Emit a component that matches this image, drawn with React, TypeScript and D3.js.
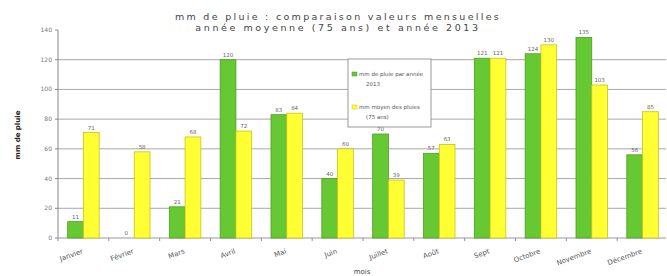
import React from "react";
import * as d3 from "d3";

const months = ["Janvier", "Février", "Mars", "Avril", "Mai", "Juin", "Juillet", "Août", "Sept", "Octobre", "Novembre", "Décembre"];
const rain2013 = [11, 0, 21, 120, 83, 40, 70, 57, 121, 124, 135, 56];
const rainAvg = [71, 58, 68, 72, 84, 60, 39, 63, 121, 130, 103, 85];
const yTicks = [0, 20, 40, 60, 80, 100, 120, 140];
const seriesNames = ["2013", "75 ans"];
const seriesColors = ["#66c832", "#ffff33"];
const seriesStrokes = ["#4e9e22", "#c9c21a"];
const legendLines = [["mm de pluie par année", "2013"], ["mm moyen des pluies", "(75 ans)"]];

export default function App() {
  const W = 667, H = 276;
  const left = 58, right = 668, top = 30, bottom = 238;
  const x0 = d3.scaleBand<string>().domain(months).range([left, right]).paddingInner(0.38).paddingOuter(0.19);
  const x1 = d3.scaleBand<string>().domain(seriesNames).range([0, x0.bandwidth()]);
  const y = d3.scaleLinear().domain([0, 140]).range([bottom, top]);
  const data = [rain2013, rainAvg];
  const step = x0.step();
  const font = "DejaVu Sans, sans-serif";
  return (
    <svg width={W} height={H} style={{ position: "absolute", left: 0, top: 0, background: "#fff" }} fontFamily={font}>
      <rect x={0} y={0} width={W} height={H} fill="#fff" />
      {yTicks.filter(t => t > 0 && t < 140).map(t => (
        <line key={t} x1={left} x2={666} y1={y(t)} y2={y(t)} stroke="#a8a8a8" strokeWidth={1} />
      ))}
      {yTicks.map(t => (
        <g key={"t" + t}>
          <line x1={left - 3} x2={left} y1={y(t)} y2={y(t)} stroke="#888" />
          <text x={left - 6} y={y(t) + 2} fontSize={6} fill="#777" textAnchor="end">{t}</text>
        </g>
      ))}
      <line x1={left} x2={left} y1={top} y2={bottom} stroke="#888" />
      <line x1={left} x2={666} y1={bottom} y2={bottom} stroke="#999" />
      {months.map((m, i) => (
        <line key={"xt" + m} x1={left + step * i} x2={left + step * i} y1={bottom} y2={bottom + 3} stroke="#9a7fc8" />
      ))}
      {months.map((m, i) => (
        <g key={m}>
          {data.map((s, k) => {
            const bx = (x0(m) as number) + (x1(seriesNames[k]) as number);
            const bw = x1.bandwidth();
            const v = s[i];
            return (
              <g key={k}>
                {v > 0 && (
                  <rect x={bx} y={y(v)} width={bw} height={bottom - y(v)} fill={seriesColors[k]} stroke={seriesStrokes[k]} strokeWidth={0.8} />
                )}
                <text x={bx + bw / 2} y={y(v) - 3} fontSize={5.5} fill="#666" textAnchor="middle">{v}</text>
              </g>
            );
          })}
          <text
            transform={`translate(${(x0(m) as number) + x0.bandwidth() / 2},${bottom + 15}) rotate(-20)`}
            fontSize={7}
            fill="#555"
            textAnchor="end"
          >{m}</text>
        </g>
      ))}
      <text x={338} y={20} fontSize={9.5} fill="#444" textAnchor="middle" letterSpacing={2.3}>mm de pluie : comparaison valeurs mensuelles</text>
      <text x={338} y={31} fontSize={9.5} fill="#444" textAnchor="middle" letterSpacing={2.6}>année moyenne (75 ans) et année 2013</text>
      <text transform={`translate(20,135) rotate(-90)`} fontSize={7} fontWeight="bold" fill="#222" textAnchor="middle">mm de pluie</text>
      <text x={362} y={274} fontSize={7} fill="#444" textAnchor="middle">mois</text>
      <g>
        <rect x={348} y={59} width={83} height={68} fill="#fff" stroke="#999" strokeWidth={1} />
        {legendLines.map((ls, k) => (
          <g key={k}>
            <rect x={352} y={72 + k * 33} width={5} height={4} fill={seriesColors[k]} stroke={seriesStrokes[k]} strokeWidth={0.5} />
            <text x={359} y={76 + k * 33} fontSize={5.5} fill="#555">{ls[0]}</text>
            <text x={366} y={86 + k * 33} fontSize={5.5} fill="#555">{ls[1]}</text>
          </g>
        ))}
      </g>
    </svg>
  );
}
